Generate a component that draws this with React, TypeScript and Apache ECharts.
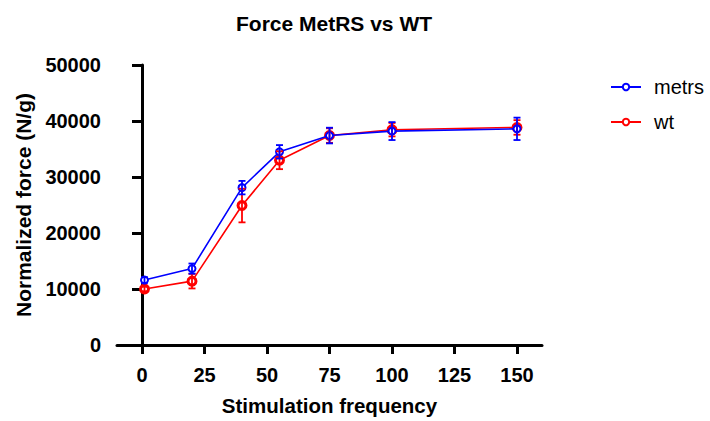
import React, { useEffect, useRef } from "react";
import * as echarts from "echarts";

const frequencies = [1, 20, 40, 55, 75, 100, 150];
const metrsForce = [11600, 13650, 28100, 34500, 37400, 38200, 38600];
const metrsError = [500, 900, 1200, 1200, 1400, 1600, 2000];
const wtForce = [10000, 11400, 24900, 33000, 37400, 38450, 38850];
const wtError = [400, 1300, 3000, 1600, 1300, 1200, 1300];
const xTicks = [0, 25, 50, 75, 100, 125, 150];

const FONT = "'Liberation Sans', Arial, sans-serif";

function errorSeries(name: string, color: string, values: number[], errors: number[]) {
  return {
    type: "custom",
    name: name + "-err",
    z: 5,
    silent: true,
    data: frequencies.map((f, i) => [f, values[i] - errors[i], values[i] + errors[i]]),
    renderItem: (params: any, api: any) => {
      const x = api.value(0);
      const lo = api.coord([x, api.value(1)]);
      const hi = api.coord([x, api.value(2)]);
      const cap = 3.5;
      const style = { stroke: color, lineWidth: 1.8 };
      return {
        type: "group",
        children: [
          { type: "line", shape: { x1: lo[0], y1: lo[1], x2: hi[0], y2: hi[1] }, style },
          { type: "line", shape: { x1: lo[0] - cap, y1: lo[1], x2: lo[0] + cap, y2: lo[1] }, style },
          { type: "line", shape: { x1: hi[0] - cap, y1: hi[1], x2: hi[0] + cap, y2: hi[1] }, style },
        ],
      };
    },
  };
}

export default function App() {
  const ref = useRef<HTMLDivElement>(null);
  useEffect(() => {
    if (!ref.current) return;
    const chart = echarts.init(ref.current, undefined, { renderer: "svg" });
    chart.setOption({
      animation: false,
      backgroundColor: "#ffffff",
      title: {
        text: "Force MetRS vs WT",
        left: 231,
        top: 8,
        textStyle: { fontFamily: FONT, fontWeight: "bold", fontSize: 21, color: "#000" },
      },
      legend: {
        orient: "vertical",
        left: 605,
        top: 72,
        itemWidth: 30,
        itemHeight: 8,
        itemGap: 15,
        textStyle: { fontFamily: FONT, fontSize: 20, color: "#000", padding: [0, 0, 0, 8] },
        data: ["metrs", "wt"],
      },
      grid: { left: 117, right: 168, top: 65, bottom: 74 },
      xAxis: {
        type: "value",
        min: -10,
        max: 160,
        name: "Stimulation frequency",
        nameLocation: "middle",
        nameGap: 50,
        nameTextStyle: { fontFamily: FONT, fontWeight: "bold", fontSize: 20.5, color: "#000" },
        axisLine: { show: true, onZero: false, lineStyle: { color: "#000", width: 3 } },
        axisTick: {
          show: true,
          length: 9,
          lineStyle: { color: "#000", width: 3 },
          customValues: xTicks,
        },
        axisLabel: {
          margin: 20,
          fontFamily: FONT,
          fontWeight: "bold",
          fontSize: 20,
          color: "#000",
          customValues: xTicks,
        },
        splitLine: { show: false },
      },
      yAxis: {
        type: "value",
        min: 0,
        max: 50000,
        interval: 10000,
        name: "Normalized force (N/g)",
        nameLocation: "middle",
        nameGap: 81,
        nameTextStyle: { fontFamily: FONT, fontWeight: "bold", fontSize: 21, color: "#000" },
        axisLine: { show: true, lineStyle: { color: "#000", width: 3 } },
        axisTick: { show: true, length: 10, lineStyle: { color: "#000", width: 3 } },
        axisLabel: {
          margin: 16,
          fontFamily: FONT,
          fontWeight: "bold",
          fontSize: 20,
          color: "#000",
          formatter: (v: number) => String(v),
        },
        splitLine: { show: false },
      },
      series: [
        {
          name: "wt",
          type: "line",
          data: frequencies.map((f, i) => [f, wtForce[i]]),
          symbol: "circle",
          symbolSize: 8,
          z: 3,
          lineStyle: { color: "#ff0000", width: 1.6 },
          itemStyle: { color: "#ffffff", borderColor: "#ff0000", borderWidth: 3 },
        },
        {
          name: "metrs",
          type: "line",
          data: frequencies.map((f, i) => [f, metrsForce[i]]),
          symbol: "circle",
          symbolSize: 7,
          z: 4,
          lineStyle: { color: "#0000ff", width: 1.6 },
          itemStyle: { color: "#ffffff", borderColor: "#0000ff", borderWidth: 2 },
        },
        errorSeries("wt", "#ff0000", wtForce, wtError),
        errorSeries("metrs", "#0000ff", metrsForce, metrsError),
      ],
    });
    return () => chart.dispose();
  }, []);
  return <div ref={ref} style={{ width: 710, height: 421, position: "absolute", left: 0, top: 0 }} />;
}
